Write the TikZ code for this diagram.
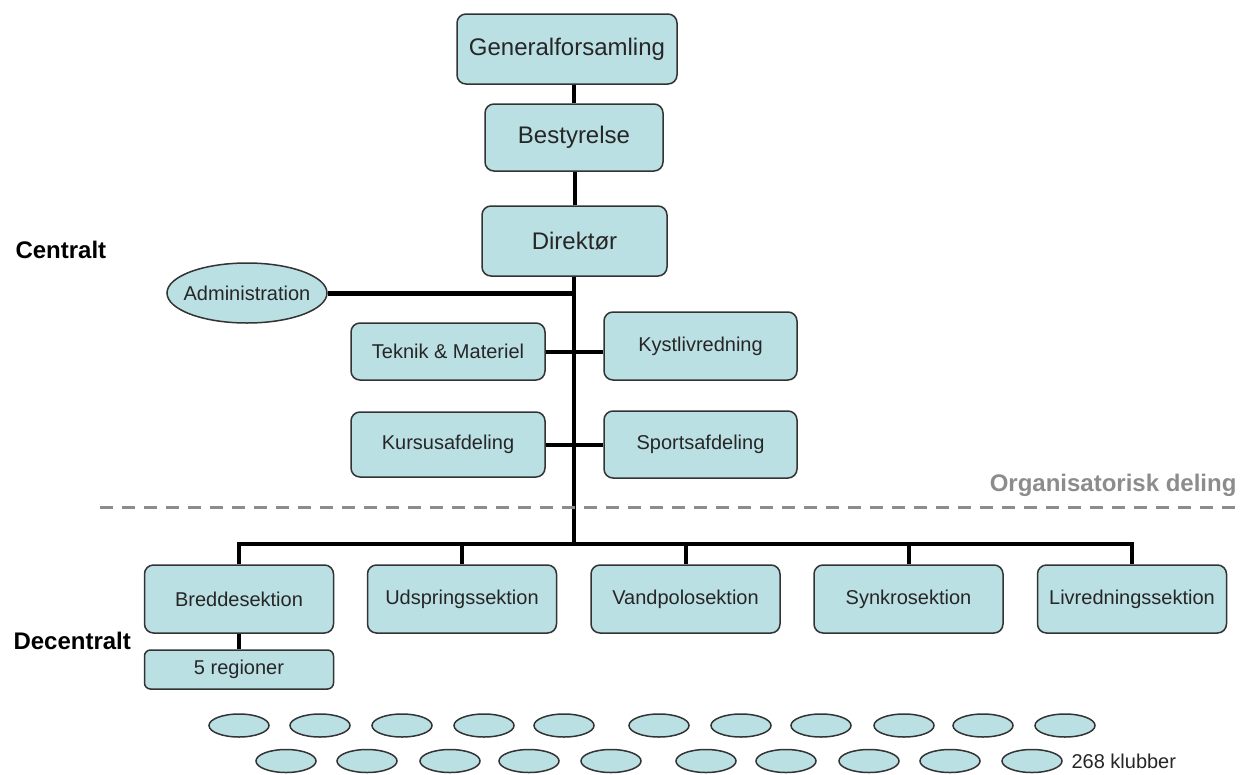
\documentclass[tikz,border=0pt]{standalone}
\usepackage{fontspec}
\setmainfont{Liberation Sans}
\usetikzlibrary{shapes.geometric}
\definecolor{boxfill}{HTML}{BBE0E3}
\definecolor{boxdraw}{HTML}{333333}
\definecolor{delgray}{HTML}{8C8C8C}

\begin{document}
\begin{tikzpicture}[x=1pt,y=-1pt,
  unit/.style={draw=boxdraw,fill=boxfill,line width=1.5pt,rounded corners=9pt,inner sep=0pt,text=black!85,font=\fontsize{20}{24}\selectfont},
  big/.style={unit,font=\fontsize{24}{28}\selectfont},
  club/.style={ellipse,draw=boxdraw,fill=boxfill,line width=1.5pt,minimum width=60pt,minimum height=23pt,inner sep=0pt},
  link/.style={line width=4pt},
  side/.style={font=\bfseries\fontsize{24}{28}\selectfont}]
  \useasboundingbox (0,0) rectangle (1248,774);
  \node[big,minimum width=220pt,minimum height=70pt] (gen) at (567,49) {Generalforsamling};
  \node[big,minimum width=178pt,minimum height=67pt] (best) at (574,137.5) {Bestyrelse};
  \node[big,minimum width=185pt,minimum height=70pt] (dir) at (574.5,241) {Direktør};
  \node[club,inner xsep=-12pt,minimum width=160pt,minimum height=60pt,text=black!85,font=\fontsize{20}{24}\selectfont] (adm) at (247,293) {Administration};
  \node[unit,minimum width=194pt,minimum height=57pt] (tek) at (448,351.5) {Teknik \& Materiel};
  \node[unit,minimum width=193pt,minimum height=68pt] (kyst) at (700.5,346) {Kystlivredning};
  \node[unit,minimum width=194pt,minimum height=65pt] (kurs) at (448,444.5) {Kursusafdeling};
  \node[unit,minimum width=193pt,minimum height=67pt] (sport) at (700.5,444.5) {Sportsafdeling};
  \node[unit,minimum width=189pt,minimum height=68pt] (bred) at (239,599) {Breddesektion};
  \node[unit,minimum width=189pt,minimum height=68pt] (uds) at (462,599) {Udspringssektion};
  \node[unit,minimum width=189pt,minimum height=68pt] (vand) at (685.5,599) {Vandpolosektion};
  \node[unit,minimum width=189pt,minimum height=68pt] (synk) at (908.5,599) {Synkrosektion};
  \node[unit,minimum width=189pt,minimum height=68pt] (livr) at (1132,599) {Livredningssektion};
  \node[unit,minimum width=189pt,minimum height=39pt,rounded corners=6pt] (reg) at (239,669.5) {5 regioner};

  \coordinate (bus) at (574,544);
  \draw[link] (best.north) -- (best.north |- gen.south);
  \draw[link] (dir.north) -- (dir.north |- best.south);
  \draw[link] (dir.south -| bus) -- (bus);
  \draw[link,line width=5pt] (adm.east) -- (adm.east -| bus);
  \draw[link] (tek.east) -- (tek.east -| kyst.west);
  \draw[link] (kurs.east) -- (kurs.east -| sport.west);
  \draw[link] (bred.north) |- (bus) -| (livr.north);
  \draw[link] (uds.north) -- (uds.north |- bus);
  \draw[link] (vand.north) -- (vand.north |- bus);
  \draw[link] (synk.north) -- (synk.north |- bus);
  \draw[link] (bred.south) -- (reg.north);

  \coordinate (dl) at (100,507);
  \coordinate (dr) at (1240,507);
  \draw[delgray,line width=3pt,dash pattern=on 13pt off 9pt] (dl) -- (dr);
  \node[font=\bfseries\fontsize{24}{28}\selectfont,text=delgray,anchor=east] (org) at (1240,485) {Organisatorisk deling};

  \node[side,anchor=west] (cen) at (12,250) {Centralt};
  \node[side,anchor=west] (dec) at (10,641) {Decentralt};

  \foreach \x [count=\i] in {239,320,402,484,564,659,741,821,904,983,1065}
    \node[club] (a\i) at (\x,725.5) {};
  \foreach \x [count=\i] in {286,367,450,529,611,706,786,869,950,1032}
    \node[club] (b\i) at (\x,761) {};
  \node[anchor=west,text=black!85,font=\fontsize{20}{24}\selectfont] (antal) at (1068,761) {268 klubber};
\end{tikzpicture}
\end{document}
